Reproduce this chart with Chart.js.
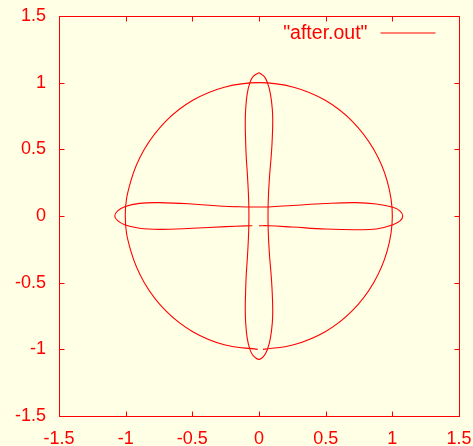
<!DOCTYPE html>
<html>
<head>
<meta charset="utf-8">
<script src="https://cdn.jsdelivr.net/npm/chart.js@4/dist/chart.umd.min.js"></script>
<style>
  html, body { margin: 0; padding: 0; background: #ffffe5; }
  #wrap { width: 473px; height: 446px; }
</style>
</head>
<body>
<div id="wrap"><canvas id="plot" width="473" height="446"></canvas></div>
<script>
// values
const tickValues = [-1.5, -1, -0.5, 0, 0.5, 1, 1.5];
const tickLabels = ['-1.5', '-1', '-0.5', '0', '0.5', '1', '1.5'];
const seriesLabel = '"after.out"';

// outer ring (open at the bottom, near x = 0)
const ringX = [0.03, 0.26, 0.5, 0.7, 0.86, 0.962, 1.0, 0.962, 0.86, 0.7, 0.5, 0.26, 0.0,
  -0.26, -0.5, -0.7, -0.86, -0.962, -1.003, -0.962, -0.86, -0.7, -0.5, -0.26, -0.01];
const ringY = [-1.0, -0.966, -0.866, -0.71, -0.5, -0.26, 0.0, 0.26, 0.5, 0.71, 0.866, 0.966, 1.0,
  0.966, 0.866, 0.71, 0.5, 0.26, 0.0, -0.26, -0.5, -0.71, -0.866, -0.966, -1.0];

// horizontal petals (open just left of the centre, lower edge)
const hLoopX = [0.0, 0.07, 0.25, 0.5, 0.73, 0.88, 1.005, 1.06, 1.078, 1.06, 1.005, 0.88, 0.73, 0.5, 0.25, 0.07, 0.0,
  -0.1, -0.3, -0.5, -0.745, -0.896, -1.008, -1.06, -1.082, -1.06, -1.008, -0.896, -0.745, -0.5, -0.25, -0.1, -0.05];
const hLoopY = [-0.073, -0.073, -0.083, -0.098, -0.103, -0.097, -0.065, -0.035, 0.0, 0.035, 0.065, 0.09, 0.1, 0.094, 0.079, 0.068, 0.067,
  0.068, 0.075, 0.09, 0.1, 0.095, 0.07, 0.038, 0.0, -0.035, -0.065, -0.092, -0.1, -0.092, -0.08, -0.074, -0.073];

// vertical petals (closed)
const vLoopX = [0, 0.04, 0.063, 0.085, 0.1, 0.103, 0.098, 0.09, 0.08, 0.072, 0.068, 0.068, 0.072, 0.08, 0.09, 0.098, 0.103, 0.1, 0.085, 0.063, 0.04, 0,
  -0.045, -0.068, -0.088, -0.1, -0.103, -0.1, -0.095, -0.087, -0.08, -0.076, -0.076, -0.08, -0.087, -0.095, -0.1, -0.103, -0.1, -0.088, -0.068, -0.045, 0];
const vLoopY = [1.075, 1.045, 1.0, 0.92, 0.8, 0.7, 0.55, 0.43, 0.31, 0.18, 0.06, -0.06, -0.18, -0.31, -0.43, -0.55, -0.7, -0.8, -0.92, -1.0, -1.045, -1.075,
  -1.045, -1.0, -0.92, -0.8, -0.7, -0.55, -0.43, -0.31, -0.18, -0.06, 0.06, 0.18, 0.31, 0.43, 0.55, 0.7, 0.8, 0.92, 1.0, 1.045, 1.075];

const RED = '#ff0000';
const BG = '#ffffe5';
const FONT = { family: '"Liberation Sans", Arial, sans-serif', size: 18 };
const KEY_FONT_SIZE = 19.5;

function toPoints(xs, ys) {
  return xs.map((x, i) => ({ x: x, y: ys[i] }));
}

function lineSet(xs, ys, label) {
  return {
    label: label,
    data: toPoints(xs, ys),
    showLine: true,
    borderColor: RED,
    backgroundColor: RED,
    borderWidth: 1.1,
    pointRadius: 0,
    tension: 0.4,
    fill: false
  };
}

// gnuplot-ish frame: border, inward ticks on all sides, key inside top right
const framePlugin = {
  id: 'frame',
  beforeDraw(chart) {
    const ctx = chart.ctx;
    ctx.save();
    ctx.fillStyle = BG;
    ctx.fillRect(0, 0, chart.width, chart.height);
    ctx.restore();
  },
  afterDraw(chart) {
    const ctx = chart.ctx;
    const a = chart.chartArea;
    const xs = chart.scales.x;
    const ys = chart.scales.y;
    const L = Math.round(a.left) + 0.5, R = Math.round(a.right) + 0.5;
    const T = Math.round(a.top) + 0.5, B = Math.round(a.bottom) + 0.5;
    const len = 5;
    ctx.save();
    ctx.strokeStyle = RED;
    ctx.lineWidth = 1;
    ctx.beginPath();
    ctx.rect(L, T, R - L, B - T);
    for (const v of tickValues) {
      const px = Math.round(xs.getPixelForValue(v)) + 0.5;
      ctx.moveTo(px, B); ctx.lineTo(px, B - len);
      ctx.moveTo(px, T); ctx.lineTo(px, T + len);
      const py = Math.round(ys.getPixelForValue(v)) + 0.5;
      ctx.moveTo(L, py); ctx.lineTo(L + len, py);
      ctx.moveTo(R, py); ctx.lineTo(R - len, py);
    }
    ctx.stroke();

    // key
    const keyY = T + 16;
    ctx.fillStyle = RED;
    ctx.font = KEY_FONT_SIZE + 'px ' + FONT.family;
    ctx.textAlign = 'right';
    ctx.textBaseline = 'middle';
    ctx.fillText(seriesLabel, R - 92, keyY + 1);
    ctx.beginPath();
    ctx.moveTo(R - 79, keyY + 0.5);
    ctx.lineTo(R - 24, keyY + 0.5);
    ctx.stroke();
    ctx.restore();
  }
};

function fixedTicks(scale) {
  scale.ticks = tickValues.map(v => ({ value: v }));
}

const tickOpts = {
  color: RED,
  font: FONT,
  autoSkip: false,
  maxRotation: 0,
  callback: (v) => tickLabels[tickValues.indexOf(v)]
};

new Chart(document.getElementById('plot').getContext('2d'), {
  type: 'scatter',
  plugins: [framePlugin],
  data: {
    datasets: [
      lineSet(ringX, ringY, seriesLabel),
      lineSet(hLoopX, hLoopY, seriesLabel),
      lineSet(vLoopX, vLoopY, seriesLabel)
    ]
  },
  options: {
    responsive: false,
    animation: false,
    layout: { padding: { top: 16, right: 14, left: 0, bottom: 0 } },
    plugins: {
      legend: { display: false },
      tooltip: { enabled: false }
    },
    scales: {
      x: {
        type: 'linear', min: -1.5, max: 1.5,
        grid: { display: false, drawTicks: false },
        border: { display: false },
        afterBuildTicks: fixedTicks,
        ticks: Object.assign({}, tickOpts, { padding: 12 }),
        afterFit: (s) => { s.height = 30; s.paddingLeft = 0; s.paddingRight = 0; }
      },
      y: {
        type: 'linear', min: -1.5, max: 1.5,
        grid: { display: false, drawTicks: false },
        border: { display: false },
        afterBuildTicks: fixedTicks,
        ticks: Object.assign({}, tickOpts, { padding: 13 }),
        afterFit: (s) => { s.width = 59; s.paddingTop = 0; s.paddingBottom = 0; }
      }
    }
  }
});
</script>
</body>
</html>
